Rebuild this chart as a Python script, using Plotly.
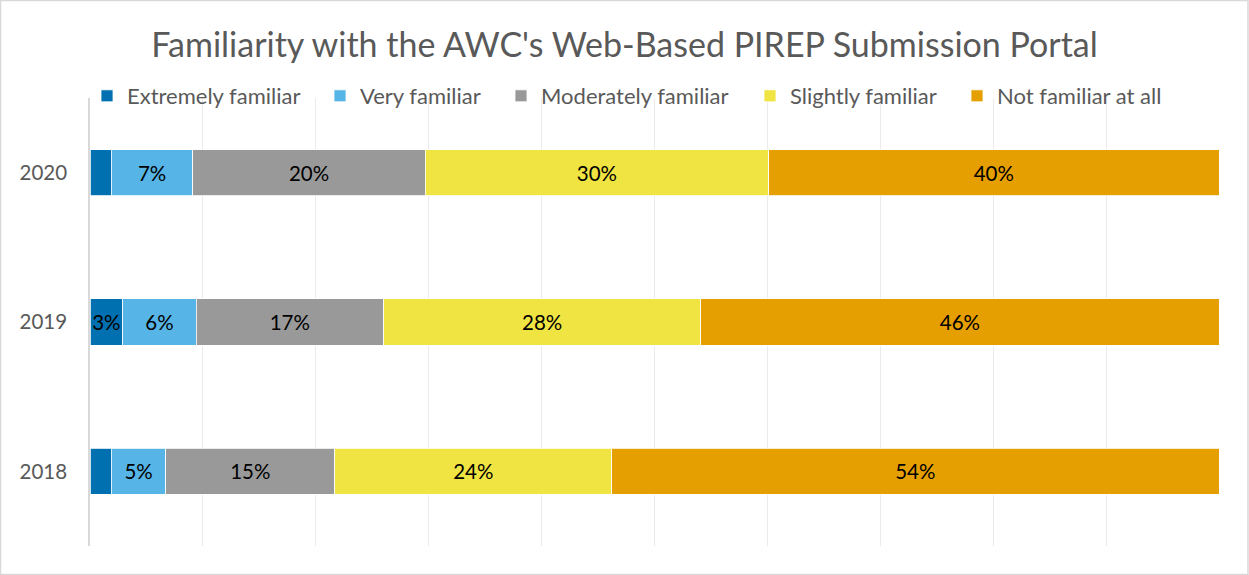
import plotly.graph_objects as go

years = ["2018", "2019", "2020"]
series_names = ["Extremely familiar", "Very familiar", "Moderately familiar",
                "Slightly familiar", "Not familiar at all"]
extremely = [1.9, 2.9, 1.9]
very = [4.8, 6.5, 7.2]
moderately = [15.0, 16.6, 20.6]
slightly = [24.5, 28.1, 30.4]
not_at_all = [53.8, 45.9, 39.9]
labels_extremely = ["", "3%", ""]
labels_very = ["5%", "6%", "7%"]
labels_moderately = ["15%", "17%", "20%"]
labels_slightly = ["24%", "28%", "30%"]
labels_not = ["54%", "46%", "40%"]

colors = ["#0070B0", "#56B4E6", "#999999", "#F0E442", "#E69F00"]
values = [extremely, very, moderately, slightly, not_at_all]
labels = [labels_extremely, labels_very, labels_moderately, labels_slightly, labels_not]

# left edge (px) of each legend entry's text, as in the reference
legend_text_x = [123, 356, 537, 786, 993]

FONT = "Lato"
W, H = 1249, 575
fig = go.Figure()
legend_layout = {}
for i, (name, vals, txt, col) in enumerate(zip(series_names, values, labels, colors)):
    lg = "legend" if i == 0 else f"legend{i + 1}"
    fig.add_trace(go.Bar(
        y=years, x=vals, name=name, orientation="h", showlegend=True,
        marker=dict(color=col, line=dict(color="white", width=0.8)),
        text=txt, textposition="inside", insidetextanchor="middle",
        textangle=0, constraintext="none",
        textfont=dict(family=FONT, size=20.5, color="black"),
        hoverinfo="x+y+name", legend=lg,
    ))
    legend_layout[lg] = dict(
        orientation="h", xref="container", yref="container",
        x=(legend_text_x[i] - 36) / W, xanchor="left",
        y=1 - 96 / H, yanchor="middle",
        font=dict(family=FONT, size=22, color="#595959"),
        itemwidth=30, bgcolor="rgba(0,0,0,0)", borderwidth=0,
    )

fig.update_layout(
    barmode="stack",
    bargap=0.69,
    showlegend=True,
    width=W, height=H,
    margin=dict(l=90, r=30, t=98, b=29, autoexpand=False),
    paper_bgcolor="white", plot_bgcolor="white",
    font=dict(family=FONT, color="#595959"),
    title=dict(text="Familiarity with the AWC's Web-Based PIREP Submission Portal",
               x=0.5, xanchor="center", y=1 - 45 / H, yanchor="middle",
               yref="container",
               font=dict(family=FONT, size=34, color="#595959")),
    xaxis=dict(range=[0, 100], dtick=10, showticklabels=False, showgrid=True,
               gridcolor="#EBEBEB", gridwidth=1.2, zeroline=False, showline=False,
               fixedrange=True),
    yaxis=dict(categoryorder="array", categoryarray=years, showline=True,
               linecolor="#D9D9D9", linewidth=1.5, ticks="", ticklabelstandoff=17,
               tickfont=dict(family=FONT, size=20.5, color="#595959"), showgrid=False),
    shapes=[dict(type="rect", xref="paper", yref="paper",
                 x0=-89.5 / 1129, x1=1 + 29 / 1129, y0=-28.5 / 448, y1=1 + 97.5 / 448,
                 line=dict(color="#D9D9D9", width=1.5), fillcolor="rgba(0,0,0,0)",
                 layer="below")],
    **legend_layout,
)

fig.write_html("out.html", config={"displayModeBar": False},
               post_script="document.body.style.margin='0';document.body.style.overflow='hidden';")
